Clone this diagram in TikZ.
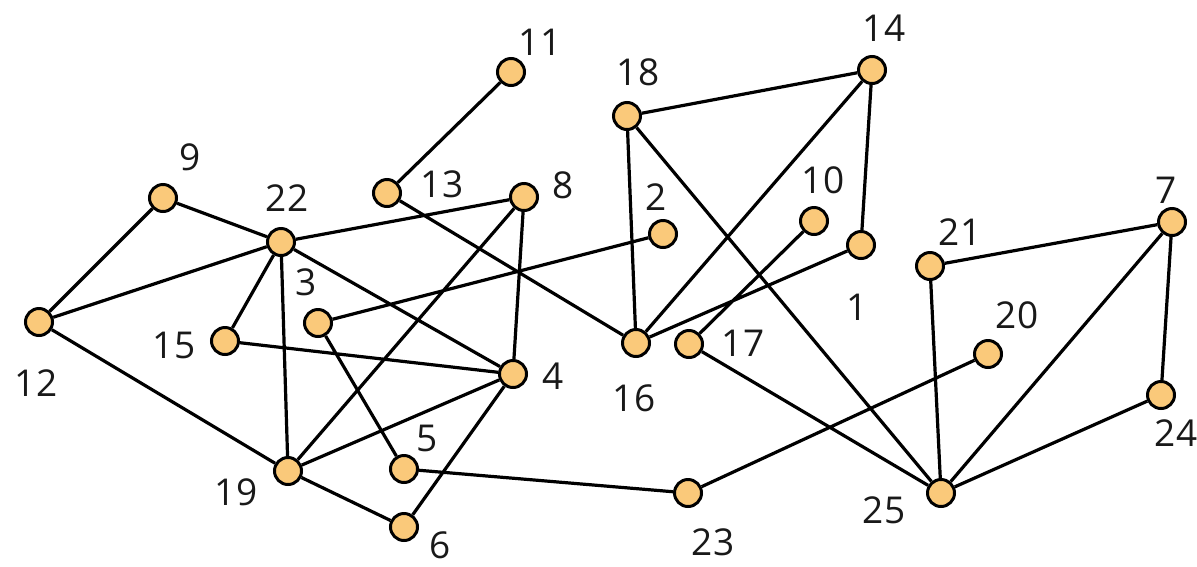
\documentclass[tikz,border=0pt]{standalone}
\usepackage{fontspec}
\setmainfont{Open Sans}
\definecolor{nodefill}{RGB}{250,201,122}
\begin{document}
\begin{tikzpicture}[x=1pt,y=-1pt,
  vtx/.style={circle,draw=black,line width=3pt,fill=nodefill,minimum size=27pt,inner sep=0pt},
  edge/.style={line width=3.2pt,draw=black},
  lbl/.style={font=\fontsize{37}{40}\selectfont,inner sep=0pt,text=black!90}]
\useasboundingbox (0,0) rectangle (1197,566);
% nodes
\node[vtx] (n11) at (511,72) {};
\node[vtx] (n18) at (627,116) {};
\node[vtx] (n14) at (872,70) {};
\node[vtx] (n9) at (163,198) {};
\node[vtx] (n13) at (387,193) {};
\node[vtx] (n8) at (524,197) {};
\node[vtx] (n22) at (281,242) {};
\node[vtx] (n10) at (814,221) {};
\node[vtx] (n2) at (663,234) {};
\node[vtx] (n1) at (861,245) {};
\node[vtx] (n7) at (1172,222) {};
\node[vtx] (n21) at (930,266) {};
\node[vtx] (n12) at (39,322) {};
\node[vtx] (n3) at (318,323) {};
\node[vtx] (n15) at (225,341) {};
\node[vtx] (n16) at (636,343) {};
\node[vtx] (n17) at (689,344) {};
\node[vtx] (n4) at (513,374) {};
\node[vtx] (n20) at (988,354) {};
\node[vtx] (n24) at (1161,395) {};
\node[vtx] (n5) at (404,469) {};
\node[vtx] (n19) at (288,471) {};
\node[vtx] (n23) at (688,493) {};
\node[vtx] (n25) at (941,493) {};
\node[vtx] (n6) at (404,527) {};
% edges
\path[edge]
 (n11)--(n13) (n18)--(n14) (n18)--(n16) (n18)--(n25) (n14)--(n16) (n14)--(n1)
 (n13)--(n16) (n8)--(n22) (n8)--(n19) (n8)--(n4) (n22)--(n9) (n22)--(n12)
 (n22)--(n15) (n22)--(n19) (n22)--(n4) (n9)--(n12) (n12)--(n19) (n3)--(n2)
 (n3)--(n5) (n15)--(n4) (n4)--(n19) (n4)--(n6) (n19)--(n6) (n5)--(n23)
 (n10)--(n17) (n1)--(n16) (n17)--(n25) (n20)--(n23) (n21)--(n25) (n21)--(n7)
 (n7)--(n25) (n7)--(n24) (n24)--(n25);
% labels
\node[lbl] (t11) at (540,42) {11};
\node[lbl] (t18) at (638,72) {18};
\node[lbl] (t14) at (884,28) {14};
\node[lbl] (t9) at (190,157) {9};
\node[lbl] (t13) at (442,184) {13};
\node[lbl] (t8) at (563,185) {8};
\node[lbl] (t22) at (287,198) {22};
\node[lbl] (t10) at (823,180) {10};
\node[lbl] (t2) at (656,197) {2};
\node[lbl] (t1) at (857,307) {1};
\node[lbl] (t7) at (1166,190) {7};
\node[lbl] (t21) at (960,232) {21};
\node[lbl] (t12) at (36,383) {12};
\node[lbl] (t3) at (306,282) {3};
\node[lbl] (t15) at (174,345) {15};
\node[lbl] (t16) at (634,398) {16};
\node[lbl] (t17) at (743,343) {17};
\node[lbl] (t4) at (553,376) {4};
\node[lbl] (t20) at (1017,315) {20};
\node[lbl] (t24) at (1176,433) {24};
\node[lbl] (t5) at (427,438) {5};
\node[lbl] (t19) at (236,492) {19};
\node[lbl] (t23) at (713,542) {23};
\node[lbl] (t25) at (884,510) {25};
\node[lbl] (t6) at (440,545) {6};
\end{tikzpicture}
\end{document}
